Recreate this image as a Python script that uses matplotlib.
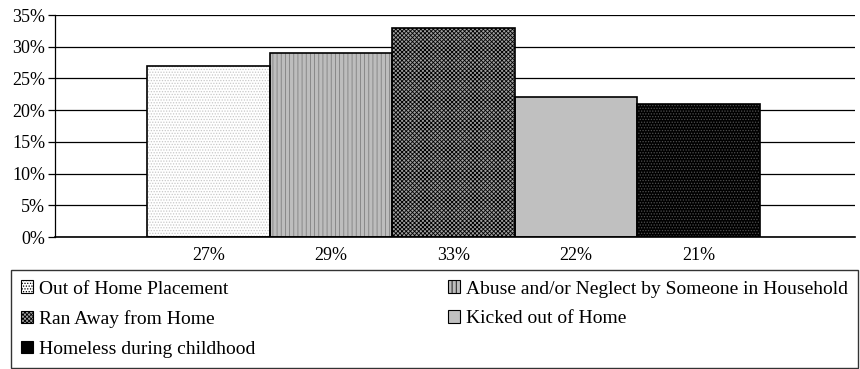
import matplotlib

matplotlib.use("Agg")
import matplotlib.pyplot as plt
import numpy as np
from matplotlib.patches import Patch


CATEGORIES = [
    "Out of Home Placement",
    "Abuse and/or Neglect by Someone in Household",
    "Ran Away from Home",
    "Kicked out of Home",
    "Homeless during childhood",
]
VALUES = [27, 29, 33, 22, 21]
FACE = ["white", "#bdbdbd", "#a0a0a0", "#c0c0c0", "black"]
HATCH = ["......", "||||", "xxxxxxxx", "", "......"]
HATCH_COLOR = ["#c8c8c8", "#808080", "black", "#c0c0c0", "#505050"]

plt.rcParams["font.family"] = ["Liberation Serif", "DejaVu Serif"]
plt.rcParams["hatch.linewidth"] = 0.6

fig = plt.figure(figsize=(8.6, 3.69), dpi=100)
ax = fig.add_axes([55 / 860, 1 - 237 / 369, 800 / 860, 222 / 369])

x = np.arange(len(VALUES))
for i, v in enumerate(VALUES):
    ax.bar(x[i], v, width=1.0, color=FACE[i], hatch=HATCH[i], edgecolor=HATCH_COLOR[i], linewidth=0, zorder=2)
    ax.bar(x[i], v, width=1.0, fill=False, edgecolor="black", linewidth=1.2, zorder=3)

# value labels sit below the axis like a data table row
for i, v in enumerate(VALUES):
    ax.text(x[i], -2.9, f"{v}%", ha="center", va="center", fontsize=13)

ax.set_xlim(-1.25, 5.275)
ax.set_ylim(0, 35)
ax.set_yticks(np.arange(0, 36, 5))
ax.set_yticklabels([f"{t}%" for t in range(0, 36, 5)], fontsize=13)
ax.yaxis.grid(True, color="black", linewidth=0.9, zorder=0)
ax.set_axisbelow(True)
ax.set_xticks([])
ax.tick_params(axis="y", length=5, width=0.9, pad=2)
for s in ["top", "right"]:
    ax.spines[s].set_visible(False)
ax.spines["left"].set_linewidth(0.9)
ax.spines["bottom"].set_linewidth(1.2)

handles = [
    Patch(facecolor=FACE[i], hatch=HATCH[i], edgecolor="black", linewidth=0.8)
    for i in range(len(CATEGORIES))
]
order = [0, 2, 4, 1, 3]  # row-major reading order in a 2-column legend
leg = fig.legend(
    [handles[i] for i in order],
    [CATEGORIES[i] for i in order],
    ncol=2,
    loc="lower left",
    bbox_to_anchor=(11 / 860, 1 / 369, 847 / 860, 98 / 369),
    mode="expand",
    fontsize=14,
    frameon=True,
    fancybox=False,
    edgecolor="black",
    handlelength=0.6,
    handleheight=0.6,
    handletextpad=0.3,
    labelspacing=0.65,
    borderpad=0.53,
    borderaxespad=0,
)
leg.get_frame().set_linewidth(1.0)

fig.savefig("out.png", dpi=100)
